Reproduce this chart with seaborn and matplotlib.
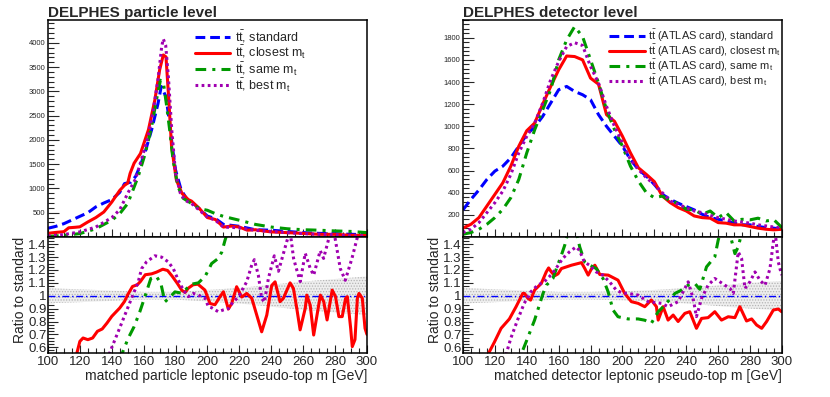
import matplotlib
matplotlib.use("Agg")
import matplotlib.pyplot as plt
from matplotlib.ticker import MultipleLocator, FuncFormatter
import seaborn as sns

# ---- particle level (left) ----
part_std_x = [100, 105, 110, 115, 120, 125, 130, 135, 140, 145, 148, 152, 155, 158, 161, 165, 169, 171, 174, 176,
              178, 180, 183.5, 187.5, 190, 195, 200, 205, 210, 215, 220, 230, 240, 250, 260, 270, 280, 290, 300]
part_std_y = [180, 220, 275, 350, 426, 500, 620, 700, 770, 920, 1100, 1130, 1250, 1480, 1760, 2210, 2750, 3100, 2890, 2410,
              1860, 1380, 970, 760, 720, 580, 430, 380, 260, 240, 220, 150, 140, 115, 90, 75, 70, 55, 50]
part_close_x = [100, 105, 110, 113, 117, 120, 125, 130, 135, 140, 145, 148, 150, 151.5, 154, 158, 163, 167, 170, 172.3,
                174, 175.5, 177.5, 180.5, 184, 188, 190, 195, 200, 205, 210, 215, 220, 225, 230, 235, 240, 250, 260,
                270, 280, 290, 300]
part_close_y = [75, 95, 110, 190, 200, 210, 310, 400, 515, 720, 960, 1065, 1110, 1310, 1520, 1720, 2210, 2820, 3440, 3750,
                3710, 2960, 1860, 1175, 900, 770, 740, 585, 400, 360, 205, 225, 205, 140, 150, 125, 105, 90, 75,
                55, 55, 35, 35]
part_same_x = [100, 110, 120, 130, 140, 145, 150, 152.5, 156.5, 161, 165, 168, 170.5, 172.5, 174.2, 176.3, 178.4, 181.5,
               184.7, 190, 195, 200, 205, 210, 220, 230, 240, 250, 260, 270, 280, 290, 300]
part_same_y = [10, 35, 70, 170, 345, 480, 690, 900, 1240, 1720, 2280, 2820, 3230, 3150, 2750, 2210, 1590, 1040,
               800, 690, 585, 550, 480, 425, 345, 260, 205, 170, 150, 140, 125, 115, 90]
part_best_x = [100, 110, 120, 130, 140, 145, 150, 155, 160, 163, 166, 169, 171.3, 172.3, 173.8, 175.5, 177.6, 180, 183,
               186, 190, 195, 200, 205, 210, 220, 230, 240, 250, 260, 270, 280, 290, 300]
part_best_y = [20, 50, 105, 205, 400, 560, 900, 1200, 1750, 2100, 2600, 3250, 3920, 4080, 3950, 3300, 2210, 1310, 900,
               755, 690, 550, 410, 345, 205, 190, 137, 115, 90, 70, 55, 50, 20, 28]

part_rclose_x = [117, 120, 122, 125, 128, 131, 134, 137, 140, 145, 148, 150, 153, 156, 158, 161, 165, 168, 172, 175, 178,
                 181, 184, 186, 188, 191, 194, 198.4, 201.6, 204.7, 207.9, 210, 213.1, 215.2, 218.3, 221.5, 224.6,
                 227.8, 230.9, 234, 237.2, 240.3, 242.4, 245.5, 247.6, 251.8, 253.9, 256, 258.1, 261.3, 262.3, 264.4,
                 266.6, 268.7, 270.8, 272.9, 275, 278.2, 280.3, 282.4, 284.5, 286.6, 287.7, 289.8, 290.8, 292.5, 294,
                 295, 297.1, 298.8, 300]
part_rclose_y = [0.5, 0.646, 0.672, 0.659, 0.672, 0.724, 0.742, 0.788, 0.84, 0.905, 0.956, 1.008, 1.072, 1.085, 1.111,
                 1.163, 1.17, 1.183, 1.206, 1.196, 1.15, 1.098, 1.041, 1.026, 1.059, 1.085, 1.09, 1.044, 0.94, 0.93,
                 0.993, 1.031, 0.897, 0.94, 1.07, 0.99, 1.018, 0.98, 0.85, 0.72, 0.85, 1.08, 1.108, 0.954, 0.98, 1.1,
                 1.057, 0.902, 0.735, 0.902, 1.005, 0.928, 0.695, 0.85, 1.005, 0.954, 0.812, 1.044, 0.993, 0.838,
                 0.838, 0.98, 0.993, 0.747, 0.605, 0.66, 0.98, 1.018, 0.98, 0.747, 0.70]
part_rsame_x = [145, 146.1, 150.3, 154, 157.6, 160.7, 164.5, 168, 170.8, 173.3, 175.8, 179.6, 183.8, 187, 190.1, 194.3,
                198.5, 200.6, 202.6, 206.8, 209, 211, 214]
part_rsame_y = [0.5, 0.54, 0.67, 0.76, 0.876, 0.99, 1.134, 1.15, 1.095, 0.953, 0.98, 1.03, 1.02, 1.056, 1.09, 1.10,
                1.15, 1.2, 1.25, 1.29, 1.34, 1.43, 1.55]
part_rbest_x = [137, 139.8, 144, 148.2, 152.4, 156.6, 158.7, 161.8, 167, 171.2, 175.4, 178.6, 181.7, 184.9, 188, 191.2,
                194.3, 198.5, 200.6, 202.6, 206.8, 210, 213.1, 216, 219.4, 222, 224.6, 227.8, 229.4, 231.9, 234, 235.7,
                238.2, 241.9, 244.5, 247, 249.7, 251.8, 254, 256, 258.2, 261.3, 264.5, 266.6, 270.7, 272.8, 276, 279,
                283.3, 286.4, 290.6, 293.7, 296, 298, 300]
part_rbest_y = [0.5, 0.592, 0.72, 0.85, 0.98, 1.108, 1.21, 1.263, 1.31, 1.30, 1.263, 1.21, 1.121, 1.044, 0.993, 1.018,
                1.005, 0.98, 0.915, 0.907, 0.876, 0.89, 0.90, 0.95, 0.99, 1.05, 1.108, 1.24, 1.28, 1.16, 0.98, 0.95,
                1.134, 1.31, 1.19, 1.3, 1.42, 1.5, 1.29, 1.2, 1.11, 1.33, 1.21, 1.16, 1.35, 1.29, 1.44, 1.52, 1.21,
                1.12, 1.29, 1.44, 1.55, 1.6, 1.6]
part_band_x = [100, 120, 140, 160, 180, 200, 220, 240, 260, 280, 300]
part_band_err = [0.058, 0.05, 0.04, 0.03, 0.03, 0.045, 0.06, 0.085, 0.11, 0.13, 0.15]

# ---- detector level (right) ----
det_x = [100, 105, 110, 115, 120, 125, 130, 135, 140, 145, 150, 155, 160, 165, 170, 175, 180, 185, 190, 195, 200,
         205, 210, 215, 220, 225, 230, 235, 240, 245, 250, 255, 260, 265, 270, 275, 280, 285, 290, 295, 300]
det_std_y = [245, 340, 425, 520, 595, 640, 715, 820, 925, 995, 1090, 1210, 1330, 1360, 1315, 1285, 1240, 1105, 1000,
             910, 820, 700, 610, 550, 475, 385, 340, 305, 275, 245, 205, 175, 160, 145, 125, 110, 110, 95, 85, 80, 70]
det_close_y = [80, 115, 175, 280, 385, 490, 640, 820, 960, 1030, 1200, 1360, 1510, 1635, 1630, 1600, 1435, 1380, 1105,
               1045, 910, 760, 625, 565, 500, 370, 310, 265, 235, 190, 175, 170, 130, 125, 110, 110, 95, 80, 70, 65, 70]
det_same_y = [25, 40, 70, 115, 175, 250, 355, 520, 760, 970, 1150, 1330, 1600, 1780, 1900, 1810, 1600, 1390, 1150,
              970, 820, 640, 505, 400, 355, 370, 325, 305, 250, 245, 205, 235, 175, 220, 145, 160, 155, 170, 145,
              155, 85]
det_best_y = [40, 70, 130, 220, 310, 415, 565, 760, 910, 1030, 1210, 1420, 1585, 1720, 1755, 1730, 1540, 1390, 1180,
              1000, 850, 700, 610, 535, 475, 400, 325, 295, 265, 235, 220, 195, 175, 160, 145, 135, 125, 110, 100,
              90, 80]

det_rclose_x = [115.5, 119.7, 123.9, 129.1, 133.3, 137.5, 138.6, 140.7, 142.4, 144.9, 149.1, 152.2, 153.7, 155.4, 157.5,
                159.6, 161.7, 168, 174.3, 176.4, 178.5, 180.6, 182.7, 185.8, 191.1, 197.2, 201.4, 205.6, 209.8, 214,
                218.1, 221.3, 222.4, 225.5, 228.6, 231.8, 234.9, 239.1, 242.2, 246.4, 249.6, 253.7, 257.9, 262.1,
                266.3, 270.5, 273.6, 277.8, 281, 284.1, 287.3, 290.4, 294.6, 297.7, 299.8]
det_rclose_y = [0.54, 0.64, 0.747, 0.82, 0.915, 1.018, 1.018, 0.98, 0.966, 1.044, 1.095, 1.185, 1.216, 1.185, 1.155,
                1.17, 1.211, 1.237, 1.257, 1.211, 1.16, 1.21, 1.237, 1.165, 1.16, 1.121, 1.018, 0.954, 0.941, 0.915,
                0.967, 0.915, 0.811, 0.915, 0.811, 0.85, 0.8, 0.863, 0.876, 0.747, 0.824, 0.83, 0.876, 0.811, 0.837,
                0.83, 0.915, 0.804, 0.82, 0.773, 0.747, 0.8, 0.889, 0.897, 0.876]
det_rsame_x = [137.6, 139.7, 144.9, 150.2, 152.3, 156.4, 158.6, 161.7, 163.8, 166, 168, 171, 173.2, 176.3, 179.5, 183.6,
               187.8, 191, 194.1, 197.2, 203.5, 209.8, 214, 218.1, 222.4, 226.6, 232.9, 237.1, 241.2, 245.4, 248.5,
               252.7, 257.9, 260, 262, 265, 268, 270.5, 272.6, 275, 280, 285, 290, 295, 300]
det_rsame_y = [0.58, 0.645, 0.811, 1.018, 1.082, 1.134, 1.211, 1.315, 1.392, 1.5, 1.55, 1.5, 1.379, 1.263, 1.237,
               1.211, 1.134, 1.031, 0.889, 0.837, 0.82, 0.82, 0.81, 0.786, 0.876, 0.928, 1.018, 1.044, 1.082, 1.095,
               1.05, 1.224, 1.302, 1.43, 1.52, 1.55, 1.45, 1.327, 1.379, 1.5, 1.6, 1.6, 1.55, 1.6, 1.6]
det_rbest_x = [126.9, 130, 134.2, 138.4, 142.6, 146.8, 150.9, 155.1, 158.3, 162.5, 166.7, 170.9, 173, 176.1, 179.3,
               183.5, 187.7, 191.9, 196.1, 200, 203.5, 209.8, 216.1, 224.4, 228.6, 234.9, 241.2, 244.3, 246.4, 249.6,
               253.7, 257.9, 261.1, 264.2, 267.4, 269.5, 271.6, 272.6, 274.7, 276.8, 279.9, 283.1, 286.2, 289.4,
               292.5, 294.6, 295.7, 297.7, 299.8]
det_rbest_y = [0.54, 0.67, 0.811, 0.941, 1.031, 1.082, 1.108, 1.16, 1.211, 1.289, 1.34, 1.379, 1.353, 1.263, 1.237,
               1.185, 1.16, 1.108, 1.044, 1.02, 1.018, 1.005, 0.954, 0.941, 0.915, 0.954, 1.108, 0.98, 0.838, 0.98,
               1.082, 1.134, 1.108, 1.082, 1.057, 1.018, 1.237, 1.34, 1.289, 1.057, 1.108, 1.185, 1.12, 1.082,
               1.211, 1.418, 1.5, 1.263, 1.16]
det_band_x = [100, 120, 140, 160, 180, 200, 220, 240, 260, 280, 300]
det_band_err = [0.06, 0.05, 0.04, 0.03, 0.03, 0.035, 0.045, 0.06, 0.08, 0.1, 0.115]

part_labels = [r"$t\bar{t}$, standard", r"$t\bar{t}$, closest $m_t$",
               r"$t\bar{t}$, same $m_t$", r"$t\bar{t}$, best $m_t$"]
det_labels = [r"$t\bar{t}$ (ATLAS card), standard", r"$t\bar{t}$ (ATLAS card), closest $m_t$",
              r"$t\bar{t}$ (ATLAS card), same $m_t$", r"$t\bar{t}$ (ATLAS card), best $m_t$"]

colors = ["#0000ff", "#ff0000", "#009900", "#a000b0"]
styles = [(0, (3.2, 1.6)), "-", (0, (3.5, 2, 1, 2)), (0, (0.9, 1.1))]

sns.set_style("ticks")
plt.rcParams["font.family"] = ["Liberation Sans", "DejaVu Sans"]
plt.rcParams["mathtext.fontset"] = "custom"
plt.rcParams["mathtext.rm"] = "Liberation Sans"
plt.rcParams["mathtext.it"] = "Liberation Sans"
plt.rcParams["mathtext.default"] = "regular"
plt.rcParams["hatch.color"] = "#a8a8a8"
plt.rcParams["hatch.linewidth"] = 0.6

fig = plt.figure(figsize=(8.3, 3.97), dpi=100)


def frame(ax):
    for s in ax.spines.values():
        s.set_linewidth(1.1)
        s.set_color("black")
    ax.set_xlim(100, 300)
    ax.xaxis.set_major_locator(MultipleLocator(20))
    ax.xaxis.set_minor_locator(MultipleLocator(5))
    ax.tick_params(which="both", direction="in", top=False, right=False, width=0.8)
    ax.tick_params(axis="x", which="major", length=6)
    ax.tick_params(axis="x", which="minor", length=3.5)


def draw_panel(left, title, series, ymax, ymaj, ymin, labels, leg_size, handle_len,
               ratios, band_x, band_err, xlabel):
    w = 0.3843
    top = fig.add_axes([left, 0.403, w, 0.5466])
    rat = fig.add_axes([left, 0.111, w, 0.292])

    for (xs, ys), c, ls, lab in zip(series, colors, styles, labels):
        sns.lineplot(x=xs, y=ys, ax=top, color=c, linestyle=ls, linewidth=2.2,
                     label=lab, sort=False, estimator=None)
    frame(top)
    top.set_ylim(0, ymax)
    top.yaxis.set_major_locator(MultipleLocator(ymaj))
    top.yaxis.set_minor_locator(MultipleLocator(ymin))
    top.set_yticks([t for t in top.get_yticks() if 0 < t <= ymax])
    top.tick_params(axis="y", which="major", length=8, labelsize=5.5, pad=2)
    top.tick_params(axis="y", which="minor", length=4.5)
    top.tick_params(axis="x", labelbottom=False)
    top.set_xlabel("")
    top.set_ylabel("")
    top.set_title(title, loc="left", fontsize=11, fontweight="bold", pad=2)
    top.legend(loc="upper left", bbox_to_anchor=(0.435, 1.0), frameon=False, fontsize=leg_size,
               handlelength=handle_len, handletextpad=0.35, labelspacing=-0.1, borderaxespad=0.3)

    lo = [1 - e for e in band_err]
    hi = [1 + e for e in band_err]
    rat.fill_between(band_x, lo, hi, facecolor="#eeeeee", edgecolor="#b4b4b4",
                     hatch="......", linewidth=0, zorder=1)
    rat.axhline(1.0, color="#0000ff", linestyle=(0, (5, 2, 1, 2)), linewidth=1.0, zorder=2)
    for (xs, ys), c, ls in zip(ratios, colors[1:], styles[1:]):
        sns.lineplot(x=xs, y=ys, ax=rat, color=c, linestyle=ls, linewidth=2.2,
                     sort=False, estimator=None, legend=False)
    frame(rat)
    rat.set_ylim(0.556, 1.456)
    rat.set_yticks([0.6, 0.7, 0.8, 0.9, 1.0, 1.1, 1.2, 1.3, 1.4])
    rat.yaxis.set_minor_locator(MultipleLocator(0.025))
    rat.yaxis.set_major_formatter(FuncFormatter(lambda v, p: f"{v:g}"))
    rat.tick_params(axis="y", which="major", length=7, labelsize=9.5, pad=1)
    rat.tick_params(axis="y", which="minor", length=4)
    rat.tick_params(axis="x", labelsize=9.5, pad=2)
    rat.set_xlabel(xlabel, loc="right", fontsize=10, labelpad=1)
    rat.set_ylabel("Ratio to standard", loc="top", fontsize=10, labelpad=1)


draw_panel(0.0578, "DELPHES particle level",
           [(part_std_x, part_std_y), (part_close_x, part_close_y),
            (part_same_x, part_same_y), (part_best_x, part_best_y)],
           4470, 500, 100, part_labels, 9, 2.8,
           [(part_rclose_x, part_rclose_y), (part_rsame_x, part_rsame_y), (part_rbest_x, part_rbest_y)],
           part_band_x, part_band_err, "matched particle leptonic pseudo-top m [GeV]")

draw_panel(0.5578, "DELPHES detector level",
           [(det_x, det_std_y), (det_x, det_close_y), (det_x, det_same_y), (det_x, det_best_y)],
           1960, 200, 40, det_labels, 7.9, 3.2,
           [(det_rclose_x, det_rclose_y), (det_rsame_x, det_rsame_y), (det_rbest_x, det_rbest_y)],
           det_band_x, det_band_err, "matched detector leptonic pseudo-top m [GeV]")

fig.savefig("out.png", dpi=100)
